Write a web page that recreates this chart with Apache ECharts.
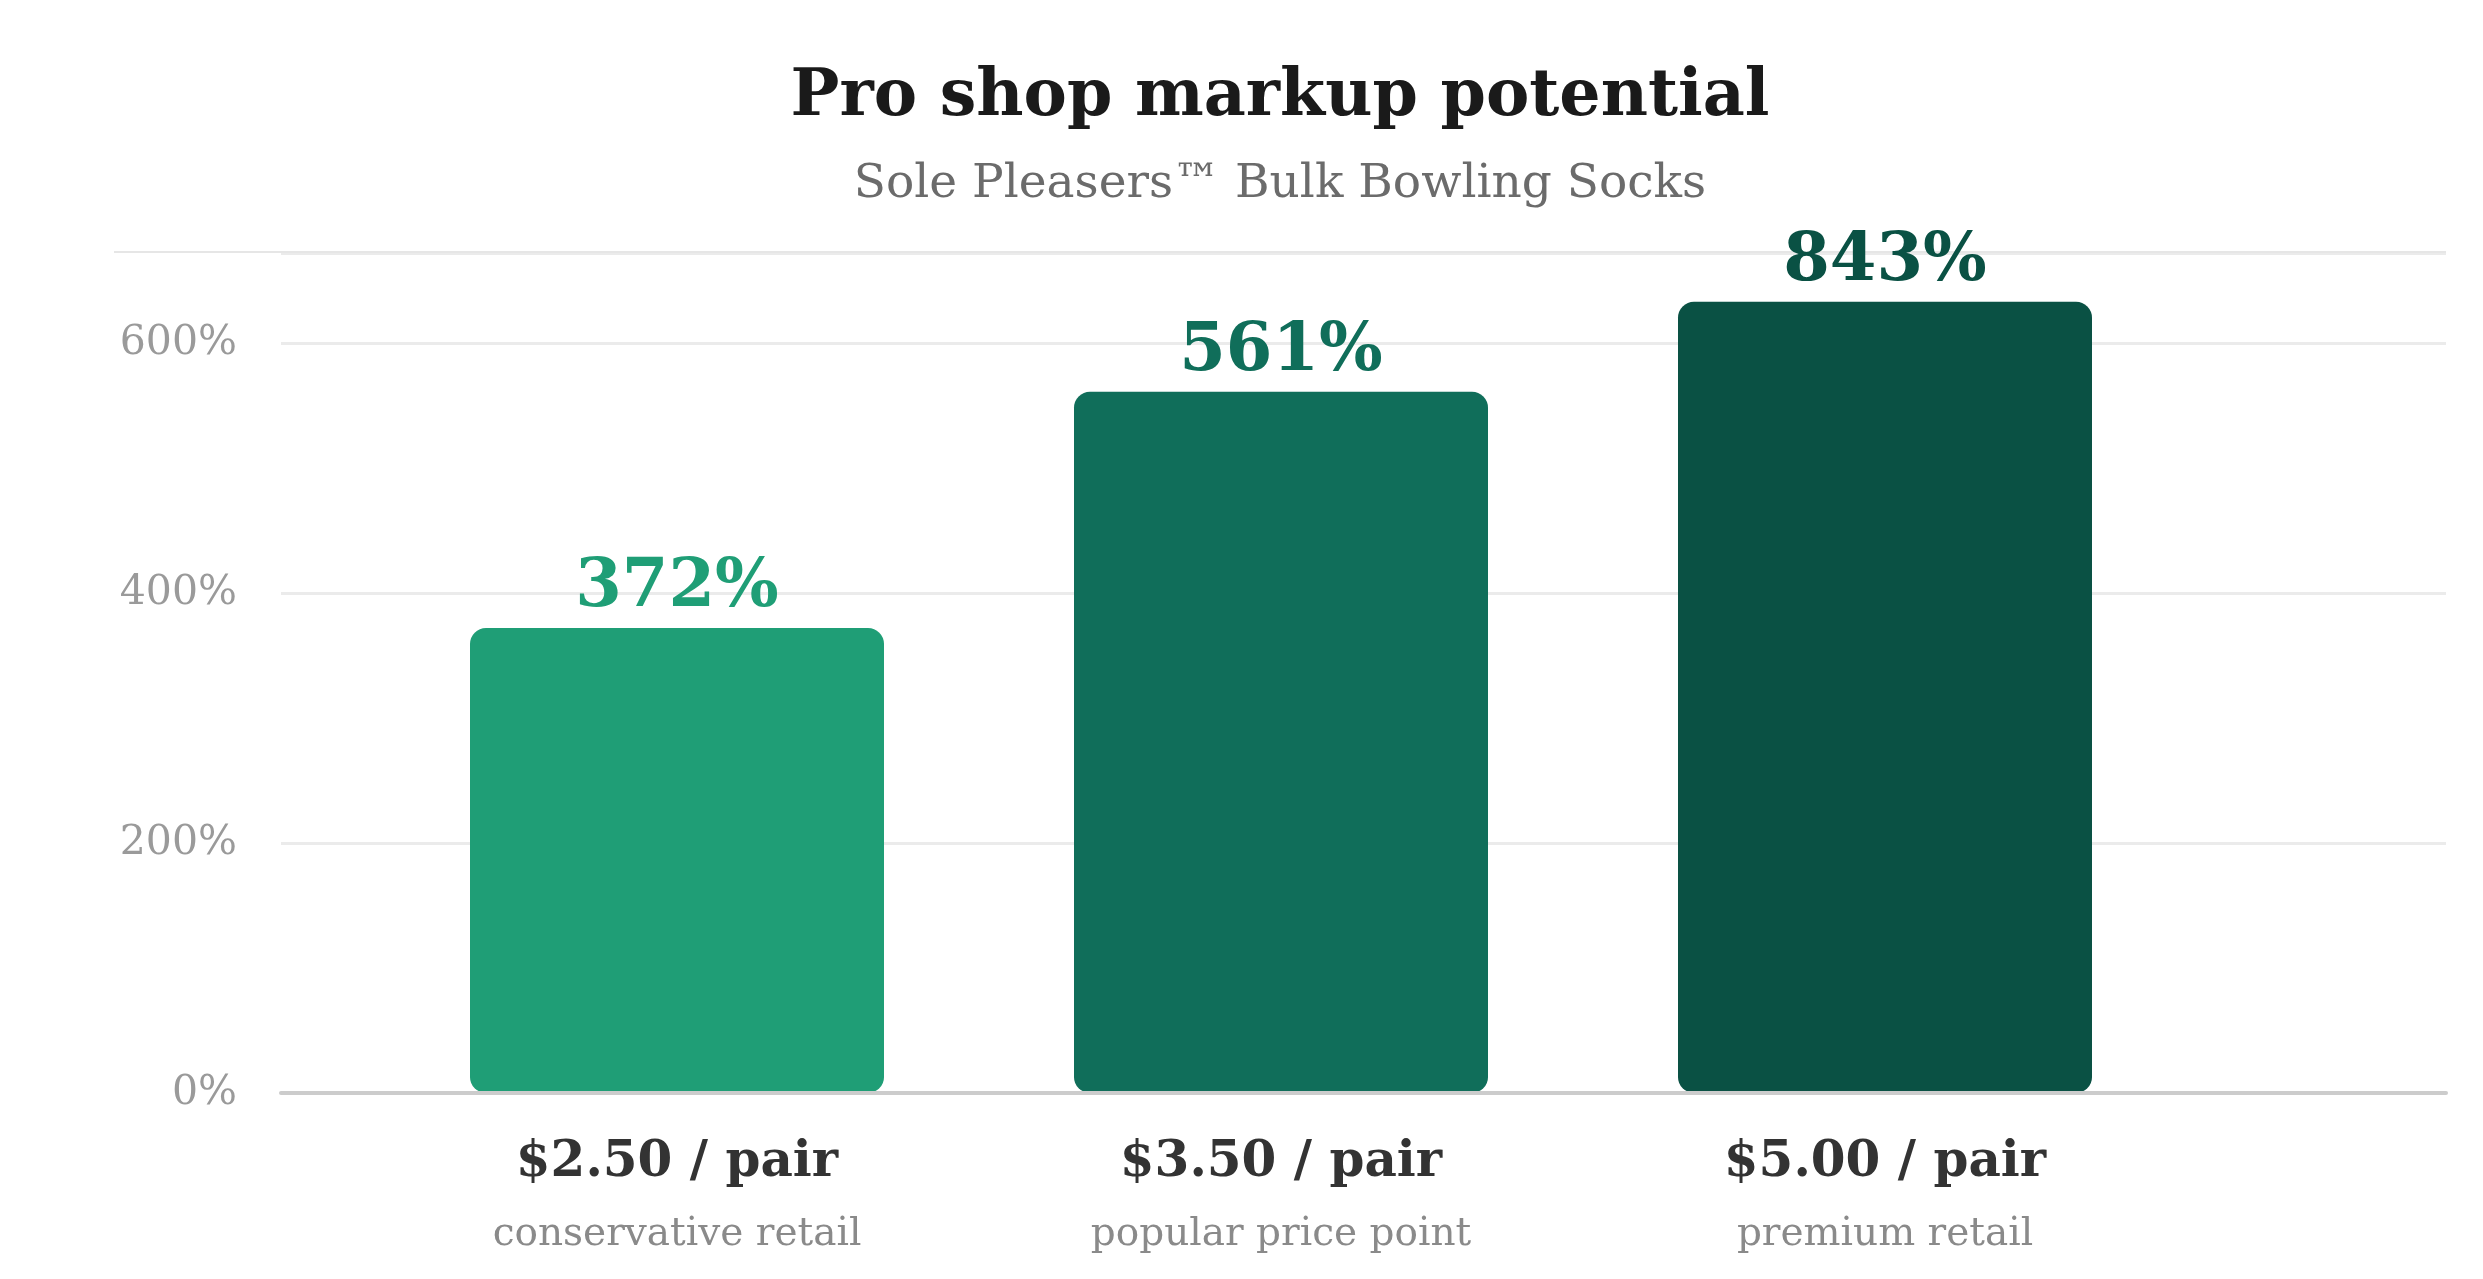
<!DOCTYPE html>
<html>
<head>
<meta charset="utf-8">
<script src="https://cdn.jsdelivr.net/npm/echarts@6/dist/echarts.min.js"></script>
<style>
    html, body { margin: 0; padding: 0; background: #fff; }
    #chart { width: 2483px; height: 1279px; }
</style>
</head>
<body>
<div id="chart"></div>
<script>
// chart data
const prices = ['$2.50 / pair', '$3.50 / pair', '$5.00 / pair'];
const notes = ['conservative retail', 'popular price point', 'premium retail'];
const markups = [372, 561, 843];
// heights the bars are drawn at (the tallest one is cut short in the original)
const barHeights = [372, 561, 633];
const barColors = ['#1f9e76', '#106e5a', '#0a5144'];

(function (echarts) {
    'use strict';

    const serif = 'Georgia, "DejaVu Serif", serif';
    const yMax = 672;

    const chart = echarts.init(document.getElementById('chart'), null, {renderer: 'canvas'});

    const option = {
        backgroundColor: '#ffffff',
        animation: false,
        textStyle: {fontFamily: serif},
        graphic: [
            {
                type: 'text', x: 1280, y: 98,
                style: {
                    text: 'Pro shop markup potential', fill: '#1a1a1a',
                    font: 'bold 65px ' + serif, textAlign: 'center', textVerticalAlign: 'middle'
                }
            },
            {
                type: 'text', x: 1280, y: 185,
                style: {
                    text: 'Sole Pleasers\u2122 Bulk Bowling Socks', fill: '#6b6b6b',
                    font: '47px ' + serif, textAlign: 'center', textVerticalAlign: 'middle'
                }
            },
            {
                type: 'line', z: 1,
                shape: {x1: 114, y1: 252, x2: 2446, y2: 252},
                style: {stroke: '#e6e6e6', lineWidth: 2}
            }
        ],
        grid: [
            {left: 281, right: 37, top: 253, bottom: 186},
            {left: 375, right: 296, top: 253, bottom: 186}
        ],
        xAxis: [
            {
                gridIndex: 0, type: 'category', data: [''], z: 5,
                axisLine: {lineStyle: {color: '#cccccc', width: 4}},
                axisTick: {show: false},
                axisLabel: {show: false}
            },
            {
                gridIndex: 1, type: 'category', data: prices,
                axisLine: {show: false},
                axisTick: {show: false},
                axisLabel: {
                    margin: 34,
                    formatter: function (v, i) {
                        return '{a|' + v + '}\n{b|' + notes[i] + '}';
                    },
                    rich: {
                        a: {fontFamily: serif, fontSize: 50, fontWeight: 'bold', color: '#333333', lineHeight: 72},
                        b: {fontFamily: serif, fontSize: 39, color: '#8a8a8a', lineHeight: 72}
                    }
                }
            }
        ],
        yAxis: [
            {
                gridIndex: 0, type: 'value', min: 0, max: yMax, interval: 200,
                axisLine: {show: false},
                axisTick: {show: false},
                axisLabel: {
                    formatter: '{value}%', showMaxLabel: false, margin: 44,
                    fontFamily: serif, fontSize: 41, color: '#9a9a9a'
                },
                splitLine: {lineStyle: {color: '#ebebeb', width: 3}}
            },
            {
                gridIndex: 1, type: 'value', min: 0, max: yMax, show: false
            }
        ],
        series: [{
            type: 'bar',
            xAxisIndex: 1,
            yAxisIndex: 1,
            barWidth: 414,
            itemStyle: {borderRadius: 16},
            label: {
                show: true,
                position: 'top',
                distance: 6,
                fontFamily: serif,
                fontSize: 67,
                fontWeight: 'bold',
                formatter: function (p) {
                    return markups[p.dataIndex] + '%';
                }
            },
            data: barHeights.map(function (v, i) {
                return {value: v, itemStyle: {color: barColors[i]}, label: {color: barColors[i]}};
            })
        }]
    };

    chart.setOption(option);

    window.addEventListener('resize', function () {
        chart.resize();
    });
})(echarts);
</script>
</body>
</html>
